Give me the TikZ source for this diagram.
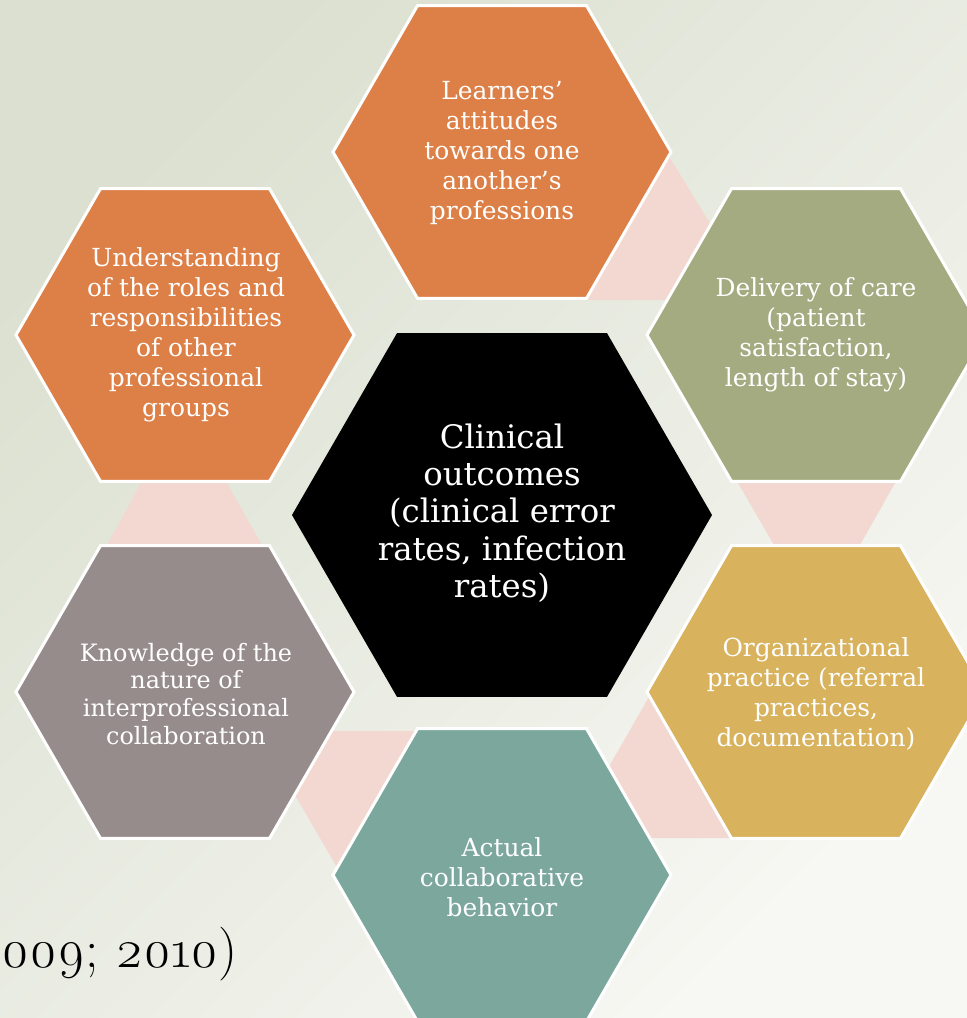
\documentclass[tikz,border=0pt]{standalone}
\usepackage{fontspec}
\setmainfont{DejaVu Serif}
\newfontfamily\oldfig{Latin Modern Roman}[Numbers=OldStyle]
\usetikzlibrary{shadows}
\definecolor{bgA}{RGB}{219,224,208}
\definecolor{bgB}{RGB}{247,247,243}
\definecolor{hexOrange}{RGB}{221,128,71}
\definecolor{hexGreen}{RGB}{165,171,129}
\definecolor{hexGray}{RGB}{150,140,140}
\definecolor{hexGold}{RGB}{216,178,92}
\definecolor{hexTeal}{RGB}{123,167,157}
\definecolor{linkPink}{RGB}{242,216,208}
\tikzset{
  pics/hexa/.style={code={\path[pic actions] (0:#1) -- (60:#1) -- (120:#1) -- (180:#1) -- (240:#1) -- (300:#1) -- cycle;}},
  outerhex/.style={draw=white, line width=3bp, line join=miter},
  outertext/.style={text=white, align=center, inner sep=0pt, font=\fontsize{25}{30}\selectfont},
  centertext/.style={text=white, align=center, inner sep=0pt, font=\fontsize{32.5}{37.5}\selectfont},
  link/.style={fill=linkPink},
}
\begin{document}
\begin{tikzpicture}[x=1bp,y=-1bp]
\useasboundingbox (0,0) rectangle (967,1018);
\shade[top color=bgA, bottom color=bgB, shading angle=45] (0,0) rectangle (967,1018);
% pink links
\fill[link] (665,150) -- (757,300) -- (580,300) -- cycle;
\fill[link] (738,483) -- (895,483) -- (860,545) -- (774,545) -- cycle;
\fill[link] (661,676) -- (755,838) -- (568,838) -- cycle;
\fill[link] (258,731) -- (434,731) -- (346,883) -- cycle;
\fill[link] (141,483) -- (227,483) -- (262,545) -- (107,545) -- cycle;
% outer hexagons
\pic[outerhex, fill=hexOrange] at (502,152) {hexa=169};
\pic[outerhex, fill=hexOrange] at (185,335) {hexa=169};
\pic[outerhex, fill=hexGreen] at (816,335) {hexa=169};
\pic[outerhex, fill=hexGold] at (816,692) {hexa=169};
\pic[outerhex, fill=hexGray] at (185,692) {hexa=169};
\pic[outerhex, fill=hexTeal] at (502,875) {hexa=169};
% center hexagon
\pic[fill=black, drop shadow={shadow xshift=3bp, shadow yshift=-4bp, fill=black, opacity=0.3}] at (502,515) {hexa=210};
% texts
\node[outertext] (learners) at (502,153) {Learners’\\attitudes\\towards one\\another’s\\professions};
\node[outertext] (roles) at (186,335) {Understanding\\of the roles and\\responsibilities\\of other\\professional\\groups};
\node[outertext] (care) at (816,335) {Delivery of care\\(patient\\satisfaction,\\length of stay)};
\node[outertext] (org) at (816,694) {Organizational\\practice (referral\\practices,\\documentation)};
\node[outertext, font=\fontsize{24}{28}\selectfont] (know) at (186,694) {Knowledge of the\\nature of\\interprofessional\\collaboration};
\node[outertext] (behav) at (502,877) {Actual\\collaborative\\behavior};
\node[centertext] (clinical) at (502,513) {Clinical\\outcomes\\(clinical error\\rates, infection\\rates)};
\node[anchor=base west, inner sep=0pt, text=black, font=\oldfig\fontsize{54}{60}\selectfont] (cite) at (1,967) {009; 2010)};
\end{tikzpicture}
\end{document}
